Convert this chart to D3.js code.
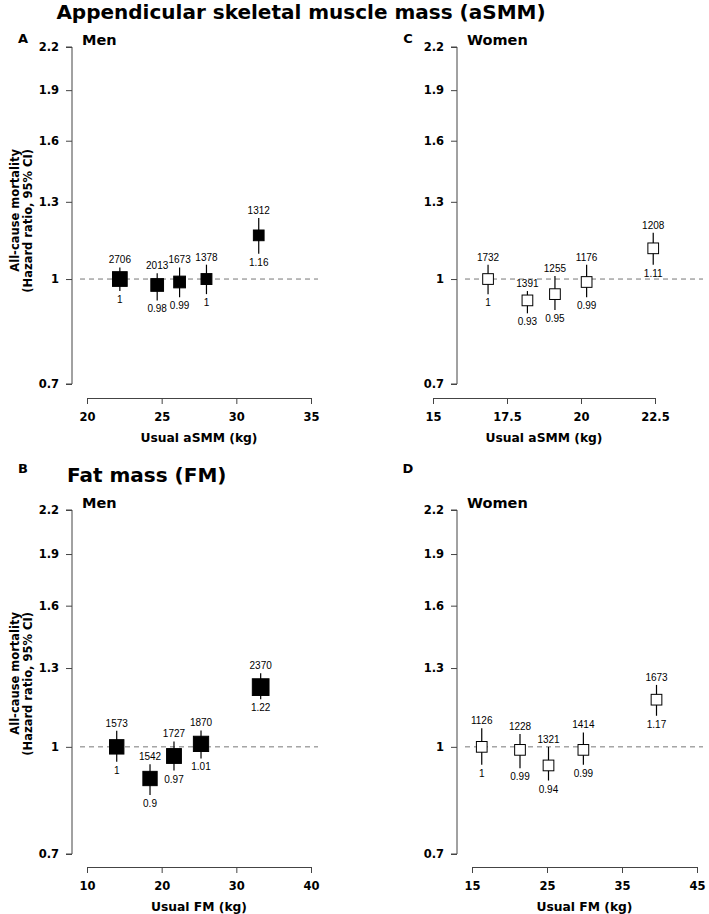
<!DOCTYPE html>
<html><head><meta charset="utf-8">
<script src="https://cdn.jsdelivr.net/npm/d3@7"></script>
<style>
body{margin:0;background:#fff;}
svg{display:block;font-family:"Liberation Sans",Arial,Helvetica,sans-serif;}
</style>
</head><body><svg id="chart" width="709" height="914"></svg>
<script>
// ---------- data ----------
const yTickValues = [0.7, 1, 1.3, 1.6, 1.9, 2.2];

const xTicksAsmmMen = [20, 25, 30, 35];
const xTicksAsmmWomen = [15, 17.5, 20, 22.5];
const xTicksFmMen = [10, 20, 30, 40];
const xTicksFmWomen = [15, 25, 35, 45];

const asmmMenX  = [22.2, 24.7, 26.2, 28.0, 31.5];
const asmmMenHR = [1, 0.98, 0.99, 1, 1.16];
const asmmMenLo = [0.96, 0.93, 0.94, 0.95, 1.09];
const asmmMenHi = [1.04, 1.02, 1.04, 1.05, 1.23];
const asmmMenN  = [2706, 2013, 1673, 1378, 1312];

const asmmWomenX  = [16.86, 18.19, 19.12, 20.19, 22.44];
const asmmWomenHR = [1, 0.93, 0.95, 0.99, 1.11];
const asmmWomenLo = [0.95, 0.89, 0.90, 0.94, 1.05];
const asmmWomenHi = [1.05, 0.96, 1.01, 1.05, 1.17];
const asmmWomenN  = [1732, 1391, 1255, 1176, 1208];

const fmMenX  = [13.98, 18.44, 21.65, 25.27, 33.26];
const fmMenHR = [1, 0.9, 0.97, 1.01, 1.22];
const fmMenLo = [0.952, 0.852, 0.924, 0.962, 1.172];
const fmMenHi = [1.055, 0.944, 1.018, 1.056, 1.278];
const fmMenN  = [1573, 1542, 1727, 1870, 2370];

const fmWomenX  = [16.3, 21.4, 25.2, 29.85, 39.6];
const fmWomenHR = [1, 0.99, 0.94, 0.99, 1.17];
const fmWomenLo = [0.942, 0.931, 0.894, 0.942, 1.109];
const fmWomenHi = [1.064, 1.044, 1.0, 1.049, 1.229];
const fmWomenN  = [1126, 1228, 1321, 1414, 1673];

// ---------- layout ----------
const svg = d3.select("#chart");
const BOLD = '"DejaVu Sans",Verdana,sans-serif';
const REG = '"Liberation Sans",Arial,Helvetica,sans-serif';

const panels = [
  {letter:"A", sex:"Men", axisX:72, xr:[87,311], yr:[384,47], xAxisY:398, xDom:[20,35], xTicks:xTicksAsmmMen,
   xLabel:"Usual aSMM (kg)", filled:true, yTitle:true, letterY:43, refEnd:318,
   x:asmmMenX, hr:asmmMenHR, lo:asmmMenLo, hi:asmmMenHi, n:asmmMenN, sizeRange:[10.7,14.7]},
  {letter:"C", sex:"Women", axisX:457, xr:[433,655], yr:[384,47], xAxisY:398, xDom:[15,22.5], xTicks:xTicksAsmmWomen,
   xLabel:"Usual aSMM (kg)", filled:false, yTitle:false, letterY:43, refEnd:703,
   x:asmmWomenX, hr:asmmWomenHR, lo:asmmWomenLo, hi:asmmWomenHi, n:asmmWomenN, sizeRange:[10.7,10.7]},
  {letter:"B", sex:"Men", axisX:72, xr:[87,311], yr:[854,510], xAxisY:867, xDom:[10,40], xTicks:xTicksFmMen,
   xLabel:"Usual FM (kg)", filled:true, yTitle:true, letterY:473, refEnd:318,
   x:fmMenX, hr:fmMenHR, lo:fmMenLo, hi:fmMenHi, n:fmMenN, sizeRange:[14.3,16.7]},
  {letter:"D", sex:"Women", axisX:457, xr:[472,697], yr:[854,510], xAxisY:867, xDom:[15,45], xTicks:xTicksFmWomen,
   xLabel:"Usual FM (kg)", filled:false, yTitle:false, letterY:473, refEnd:703,
   x:fmWomenX, hr:fmWomenHR, lo:fmWomenLo, hi:fmWomenHi, n:fmWomenN, sizeRange:[10.7,10.7]}
];

// Section titles
svg.append("text").attr("x",301).attr("y",19).attr("text-anchor","middle").attr("font-family",BOLD)
  .attr("font-size",20).attr("font-weight","bold").text("Appendicular skeletal muscle mass (aSMM)");
svg.append("text").attr("x",67).attr("y",482).attr("text-anchor","start").attr("font-family",BOLD)
  .attr("font-size",20).attr("font-weight","bold").text("Fat mass (FM)");

const axisColor = "#444";

panels.forEach(p => {
  const g = svg.append("g");
  const x = d3.scaleLinear().domain(p.xDom).range(p.xr);
  const y = d3.scaleLog().domain([0.7, 2.2]).range(p.yr);
  const top = p.yr[1];

  // panel letter and sex label
  g.append("text").attr("x", p.axisX - 49).attr("y", p.letterY)
    .attr("text-anchor","middle").attr("font-family",BOLD).attr("font-size",13).attr("font-weight","bold").text(p.letter);
  g.append("text").attr("x", p.axisX + 10).attr("y", top - 2).attr("font-family",BOLD)
    .attr("font-size",14.5).attr("font-weight","bold").text(p.sex);

  // y axis
  const yAxis = d3.axisLeft(y).tickValues(yTickValues).tickFormat(d => String(d)).tickSize(6).tickPadding(7);
  const ya = g.append("g").attr("transform", `translate(${p.axisX},0)`).call(yAxis);
  ya.select(".domain").attr("d", `M-6,${y(2.2)}H0V${y(0.7)}H-6`).attr("stroke",axisColor);
  ya.selectAll(".tick line").attr("stroke",axisColor);
  ya.selectAll(".tick text").attr("font-size",11.5).attr("font-weight","bold").attr("font-family",BOLD).attr("fill","#000");

  // x axis
  const xAxis = d3.axisBottom(x).tickValues(p.xTicks).tickFormat(d => String(d)).tickSize(6).tickPadding(9);
  const xa = g.append("g").attr("transform", `translate(0,${p.xAxisY})`).call(xAxis);
  xa.select(".domain").attr("stroke",axisColor);
  xa.selectAll(".tick line").attr("stroke",axisColor);
  xa.selectAll(".tick text").attr("font-size",11.5).attr("font-weight","bold").attr("font-family",BOLD).attr("fill","#000");

  g.append("text").attr("x",(p.xr[0]+p.xr[1])/2).attr("y",p.xAxisY+44).attr("text-anchor","middle")
    .attr("font-family",BOLD).attr("font-size",12.3).attr("font-weight","bold").text(p.xLabel);

  // y title (top-aligned, reading bottom-to-top)
  if (p.yTitle) {
    const ty = top + 102;
    g.append("text").attr("transform",`translate(19,${ty}) rotate(-90)`).attr("text-anchor","end")
      .attr("font-family",BOLD).attr("font-size",11.5).attr("font-weight","bold").text("All-cause mortality");
    g.append("text").attr("transform",`translate(32,${ty}) rotate(-90)`).attr("text-anchor","end")
      .attr("font-family",BOLD).attr("font-size",11.5).attr("font-weight","bold").text("(Hazard ratio, 95% CI)");
  }

  // reference line at HR = 1
  g.append("line").attr("x1", p.axisX + 8).attr("x2", p.refEnd)
    .attr("y1", y(1)).attr("y2", y(1))
    .attr("stroke","#777").attr("stroke-width",1).attr("stroke-dasharray","5,4");

  // points
  const size = d3.scaleLinear().domain(d3.extent(p.n)).range(p.sizeRange);
  const data = p.x.map((xv,i) => ({x:xv, hr:p.hr[i], lo:p.lo[i], hi:p.hi[i], n:p.n[i]}));
  const pts = g.selectAll("g.pt").data(data).join("g").attr("class","pt");
  pts.append("line").attr("x1",d=>x(d.x)).attr("x2",d=>x(d.x))
    .attr("y1",d=>y(d.lo)).attr("y2",d=>y(d.hi)).attr("stroke","#000").attr("stroke-width",1.2);
  pts.append("rect")
    .attr("x",d=>x(d.x)-size(d.n)/2).attr("y",d=>y(d.hr)-size(d.n)/2)
    .attr("width",d=>size(d.n)).attr("height",d=>size(d.n))
    .attr("fill",p.filled ? "#000" : "#fff").attr("stroke","#000").attr("stroke-width",1);
  pts.append("text").attr("x",d=>x(d.x)).attr("y",d=>y(d.hi)-4).attr("text-anchor","middle")
    .attr("font-family",REG).attr("font-size",10).text(d=>String(d.n));
  pts.append("text").attr("x",d=>x(d.x)).attr("y",d=>y(d.lo)+12).attr("text-anchor","middle")
    .attr("font-family",REG).attr("font-size",10).text(d=>String(d.hr));
});
</script>
</body></html>
